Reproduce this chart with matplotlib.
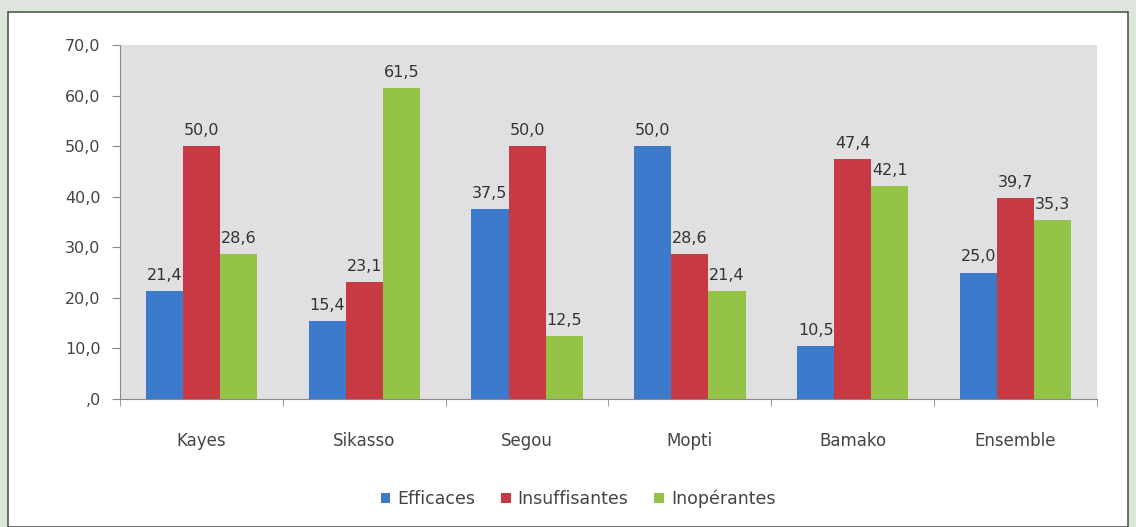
import matplotlib
matplotlib.use("Agg")
import matplotlib.pyplot as plt
import numpy as np
from matplotlib.patches import Rectangle

categories = ["Kayes", "Sikasso", "Segou", "Mopti", "Bamako", "Ensemble"]
series_names = ["Efficaces", "Insuffisantes", "Inopérantes"]
efficaces = [21.4, 15.4, 37.5, 50.0, 10.5, 25.0]
insuffisantes = [50.0, 23.1, 50.0, 28.6, 47.4, 39.7]
inoperantes = [28.6, 61.5, 12.5, 21.4, 42.1, 35.3]
yticks = [0, 10, 20, 30, 40, 50, 60, 70]

colors = ["#3E7ACB", "#C73A44", "#93C447"]
plt.rcParams['font.family'] = ['DejaVu Sans']

fig = plt.figure(figsize=(11.36, 5.27), dpi=100)
fig.patch.set_facecolor("#DEE5DD")
# white panel
fig.patches.append(Rectangle((8/1136, 0), 1120/1136, (527-12)/527, transform=fig.transFigure,
                             facecolor="white", edgecolor="#555555", linewidth=1.2, zorder=-10))

ax = fig.add_axes([120/1136, 1 - 399/527, (1097-120)/1136, (399-45)/527])
ax.set_zorder(2)
ax.set_facecolor("#E0E0E2")

x = np.arange(len(categories))
w = 0.228
data = [efficaces, insuffisantes, inoperantes]
for i, (vals, c, name) in enumerate(zip(data, colors, series_names)):
    pos = x + (i - 1) * w
    ax.bar(pos, vals, width=w, color=c, label=name, zorder=2)
    for p, v in zip(pos, vals):
        ax.text(p, v + 1.6, f"{v:.1f}".replace(".", ","), ha="center", va="bottom",
                fontsize=11.5, color="#333333", zorder=3)

ax.set_xlim(-0.5, len(categories) - 0.5)
ax.set_ylim(0, 70)
ax.set_yticks(yticks)
ax.set_yticklabels([("," + "0") if t == 0 else f"{t:.1f}".replace(".", ",") for t in yticks],
                   fontsize=11.5, color="#444444")
ax.set_xticks(x)
ax.set_xticklabels(categories, fontsize=12, color="#444444")
ax.tick_params(axis="x", length=0, pad=24)
ax.tick_params(axis="y", length=6, color="#888888", pad=8)
ax.set_xticks(np.arange(len(categories) + 1) - 0.5, minor=True)
ax.tick_params(axis="x", which="minor", length=5, color="#888888")
for s in ["top", "right"]:
    ax.spines[s].set_visible(False)
for s in ["left", "bottom"]:
    ax.spines[s].set_color("#888888")

leg = fig.legend(loc="center", bbox_to_anchor=(578/1136, 1 - 499/527), ncol=3, frameon=False,
                 fontsize=12.5, handlelength=0.55, handleheight=0.55, handletextpad=0.4,
                 columnspacing=1.5)
for t in leg.get_texts():
    t.set_color("#444444")

fig.savefig("out.png", dpi=100, facecolor=fig.get_facecolor())
